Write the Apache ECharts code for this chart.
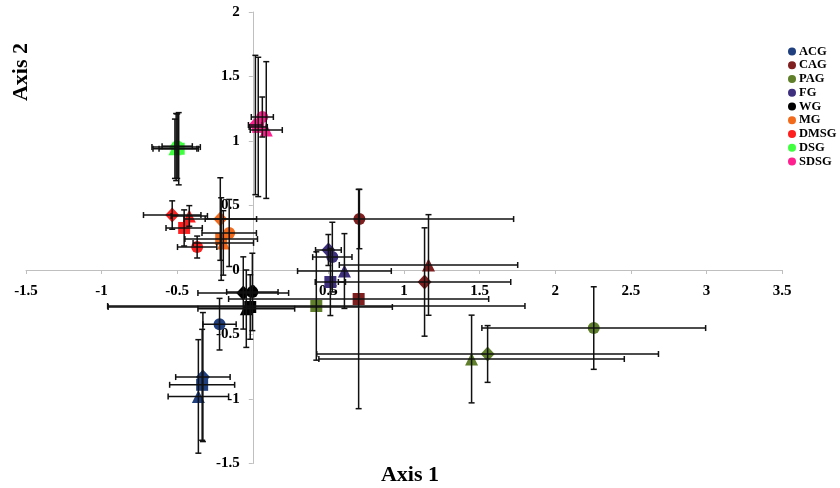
<!DOCTYPE html>
<html>
<head>
<meta charset="utf-8">
<script src="https://cdn.jsdelivr.net/npm/echarts@6/dist/echarts.min.js"></script>
<style>html,body{margin:0;padding:0;background:#fff}#c{width:840px;height:488px}</style>
</head>
<body>
<div id="c"></div>
<script>
// Group names (legend order)
const groups = ['ACG','CAG','PAG','FG','WG','MG','DMSG','DSG','SDSG'];
// Marker order within each group
const markerOrder = ['circle','diamond','rect','triangle'];
// Each point: [axis1, axis2, error axis1, error axis2]
const ACG  = [[-0.22,-0.42,0.11,0.20],[-0.33,-0.83,0.18,0.50],[-0.335,-0.89,0.215,0.43],[-0.36,-0.98,0.20,0.44]];
const CAG  = [[0.705,0.395,1.02,0.23],[1.136,-0.093,0.57,0.42],[0.70,-0.225,0.86,0.85],[1.162,0.039,0.59,0.39]];
const PAG  = [[2.255,-0.45,0.74,0.32],[1.553,-0.651,1.13,0.22],[0.42,-0.279,1.38,0.42],[1.447,-0.69,1.01,0.34]];
const FG   = [[0.526,0.10,0.13,0.27],[0.50,0.155,0.085,0.12],[0.513,-0.093,0.10,0.26],[0.606,-0.008,0.31,0.29]];
const WG   = [[-0.003,-0.17,0.17,0.30],[-0.063,-0.178,0.30,0.28],[-0.017,-0.287,0.94,0.25],[-0.043,-0.30,0.32,0.30]];
const MG   = [[-0.156,0.287,0.18,0.26],[-0.215,0.395,0.24,0.32],[-0.209,0.24,0.24,0.32],[-0.195,0.21,0.20,0.25]];
const DMSG = [[-0.368,0.178,0.13,0.085],[-0.533,0.426,0.19,0.11],[-0.454,0.326,0.12,0.14],[-0.42,0.419,0.12,0.08]];
const DSG  = [[-0.50,0.96,0.10,0.25],[-0.507,0.953,0.16,0.26],[-0.49,0.94,0.13,0.28],[-0.515,0.94,0.145,0.23]];
const SDSG = [[0.063,1.186,0.073,0.155],[0.017,1.124,0.046,0.54],[0.036,1.109,0.06,0.54],[0.089,1.085,0.106,0.53]];
const groupData = [ACG,CAG,PAG,FG,WG,MG,DMSG,DSG,SDSG];
const colors = ['#1f3f7f','#7f1f1f','#5f7f2a','#3f2f7f','#000000','#f26a1b','#ff1f1f','#3fff3f','#ff1f8f'];

const FONT = '"Liberation Serif","Times New Roman",serif';
const symSize = {circle:12, diamond:[14,15], rect:12, triangle:13};

// Plot geometry
const W = 840, H = 488;
const G = {left: 26, right: 58, top: 12, bottom: 24.5};
const X_MIN = -1.5, X_MAX = 3.5, Y_MIN = -1.5, Y_MAX = 2;
const plotW = W - G.left - G.right, plotH = H - G.top - G.bottom;
// offsets that move each axis from the grid edge to the other axis's zero
const xAxisOffset = -(plotH * (0 - Y_MIN) / (Y_MAX - Y_MIN));
const yAxisOffset = -(plotW * (0 - X_MIN) / (X_MAX - X_MIN));

function renderErr(params, api) {
  const x = api.value(0), y = api.value(1), ex = api.value(2), ey = api.value(3);
  const l = api.coord([x-ex, y]), r = api.coord([x+ex, y]);
  const t = api.coord([x, y+ey]), b = api.coord([x, y-ey]);
  const c = 3;
  const st = {stroke:'#111', lineWidth:1.5};
  const ln = (x1,y1,x2,y2) => ({type:'line', shape:{x1,y1,x2,y2}, style:st});
  return {type:'group', children:[
    ln(l[0],l[1],r[0],r[1]), ln(l[0],l[1]-c,l[0],l[1]+c), ln(r[0],r[1]-c,r[0],r[1]+c),
    ln(t[0],t[1],b[0],b[1]), ln(t[0]-c,t[1],t[0]+c,t[1]), ln(b[0]-c,b[1],b[0]+c,b[1])
  ]};
}

const series = [];
groups.forEach((g,i) => {
  series.push({
    name: g, type: 'scatter', z: 3,
    itemStyle: {color: colors[i], opacity: 1},
    data: groupData[i].map((p,k) => ({value:[p[0],p[1]], symbol: markerOrder[k], symbolSize: symSize[markerOrder[k]]})),
    emphasis: {disabled: true}
  });
});
groups.forEach((g,i) => {
  series.push({
    type: 'custom', z: 4, silent: true,
    renderItem: renderErr,
    encode: {x:0, y:1},
    data: groupData[i]
  });
});

const chart = echarts.init(document.getElementById('c'), null, {renderer:'canvas'});
chart.setOption({
  animation: false,
  backgroundColor: '#fff',
  grid: {left: G.left, right: G.right, top: G.top, bottom: G.bottom, containLabel: false, outerBoundsMode: 'none'},
  xAxis: {
    type: 'value', min: X_MIN, max: X_MAX, interval: 0.5, position: 'bottom', offset: xAxisOffset,
    axisLine: {onZero: false, lineStyle: {color: '#bfbfbf', width: 1}},
    axisTick: {show: true, length: 4, lineStyle: {color: '#bfbfbf'}},
    splitLine: {show: false},
    axisLabel: {margin: 14, color: '#000', fontFamily: FONT, fontWeight: 'bold', fontSize: 15, showMinLabel: true, showMaxLabel: true}
  },
  yAxis: {
    type: 'value', min: Y_MIN, max: Y_MAX, interval: 0.5, position: 'left', offset: yAxisOffset,
    axisLine: {onZero: false, lineStyle: {color: '#bfbfbf', width: 1}},
    axisTick: {show: true, length: 4, lineStyle: {color: '#bfbfbf'}},
    splitLine: {show: false},
    axisLabel: {margin: 13, color: '#000', fontFamily: FONT, fontWeight: 'bold', fontSize: 15, showMinLabel: true, showMaxLabel: true}
  },
  legend: {
    data: groups, orient: 'vertical', left: 783, top: 40,
    icon: 'circle', itemWidth: 8, itemHeight: 8, itemGap: 0.75,
    textStyle: {fontFamily: FONT, fontWeight: 'bold', fontSize: 12.5, color: '#000', padding: [0,0,0,-2], lineHeight: 13}
  },
  graphic: [
    {type:'text', x: 410, y: 475, style:{text:'Axis 1', font:'bold 22px ' + FONT, fill:'#000', textAlign:'center', textVerticalAlign:'middle'}},
    {type:'text', x: 21, y: 72, rotation: Math.PI/2, style:{text:'Axis 2', font:'bold 22px ' + FONT, fill:'#000', textAlign:'center', textVerticalAlign:'middle'}}
  ],
  series: series
});
</script>
</body>
</html>
